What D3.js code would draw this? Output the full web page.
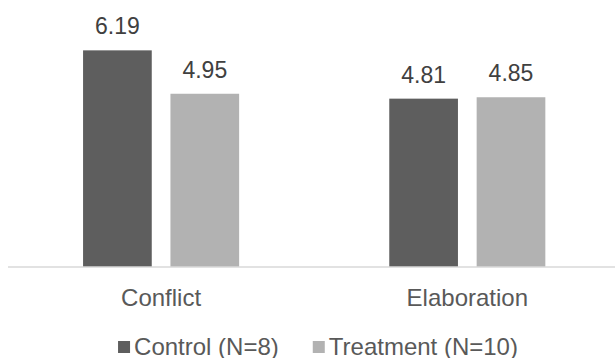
<!DOCTYPE html>
<html>
<head>
<meta charset="utf-8">
<script src="https://cdn.jsdelivr.net/npm/d3@7"></script>
<style>
  html, body { margin: 0; padding: 0; background: #ffffff; }
  svg { display: block; font-family: "Liberation Sans", Arial, sans-serif; }
</style>
</head>
<body>
<svg id="chart" width="615" height="358"></svg>
<script>
// Mean scores per category for each group
const categories = ["Conflict", "Elaboration"];
const seriesNames = ["Control (N=8)", "Treatment (N=10)"];
const controlValues = [6.19, 4.81];
const treatmentValues = [4.95, 4.85];
const seriesColors = ["#5e5e5e", "#b2b2b2"];

const series = seriesNames.map((name, i) => ({
  name,
  color: seriesColors[i],
  values: i === 0 ? controlValues : treatmentValues
}));

const svg = d3.select("#chart");

const plot = { left: 8, right: 620.4, top: 22, bottom: 267 };

const x0 = d3.scaleBand()
  .domain(categories)
  .range([plot.left, plot.right])
  .paddingInner(0)
  .paddingOuter(0);

const x1 = d3.scaleBand()
  .domain(seriesNames)
  .range([0, x0.bandwidth()])
  .paddingInner(0.214)
  .paddingOuter(0.859);

const y = d3.scaleLinear()
  .domain([0, 7])
  .range([plot.bottom, plot.top]);

// Bars and value labels
const groups = svg.append("g").selectAll("g")
  .data(categories)
  .join("g")
  .attr("transform", d => `translate(${x0(d)},0)`);

groups.selectAll("rect")
  .data((c, ci) => series.map(s => ({ name: s.name, color: s.color, value: s.values[ci] })))
  .join("rect")
  .attr("x", d => x1(d.name))
  .attr("y", d => y(d.value))
  .attr("width", x1.bandwidth())
  .attr("height", d => y(0) - y(d.value))
  .attr("fill", d => d.color);

groups.selectAll("text.value")
  .data((c, ci) => series.map(s => ({ name: s.name, value: s.values[ci] })))
  .join("text")
  .attr("class", "value")
  .attr("x", d => x1(d.name) + x1.bandwidth() / 2)
  .attr("y", d => y(d.value) - 16)
  .attr("text-anchor", "middle")
  .attr("font-size", 23)
  .attr("fill", "#404040")
  .text(d => d.value.toFixed(2));

// Category axis
const xAxis = svg.append("g")
  .attr("transform", `translate(0,${plot.bottom})`)
  .call(d3.axisBottom(x0).tickSize(0).tickPadding(0));
xAxis.select(".domain")
  .attr("d", `M${plot.left},0H${plot.right}`)
  .attr("stroke", "#d9d9d9")
  .attr("stroke-width", 1.5);
xAxis.selectAll(".tick text")
  .attr("dy", null)
  .attr("y", 39)
  .attr("font-size", 24)
  .attr("font-family", "Liberation Sans, Arial, sans-serif")
  .attr("fill", "#595959");

// Legend
const legend = svg.append("g");
const items = legend.selectAll("g")
  .data(series)
  .join("g");
items.append("rect")
  .attr("y", 341)
  .attr("width", 12)
  .attr("height", 12)
  .attr("fill", d => d.color);
items.append("text")
  .attr("x", 16)
  .attr("y", 354.5)
  .attr("font-size", 24)
  .attr("fill", "#595959")
  .text(d => d.name);

const gap = 34;
const widths = items.nodes().map(n =>
  16 + d3.select(n).select("text").node().getComputedTextLength());
const total = d3.sum(widths) + gap * (widths.length - 1);
let cursor = 318 - total / 2;
items.attr("transform", (d, i) => {
  const t = `translate(${cursor},0)`;
  cursor += widths[i] + gap;
  return t;
});
</script>
</body>
</html>
